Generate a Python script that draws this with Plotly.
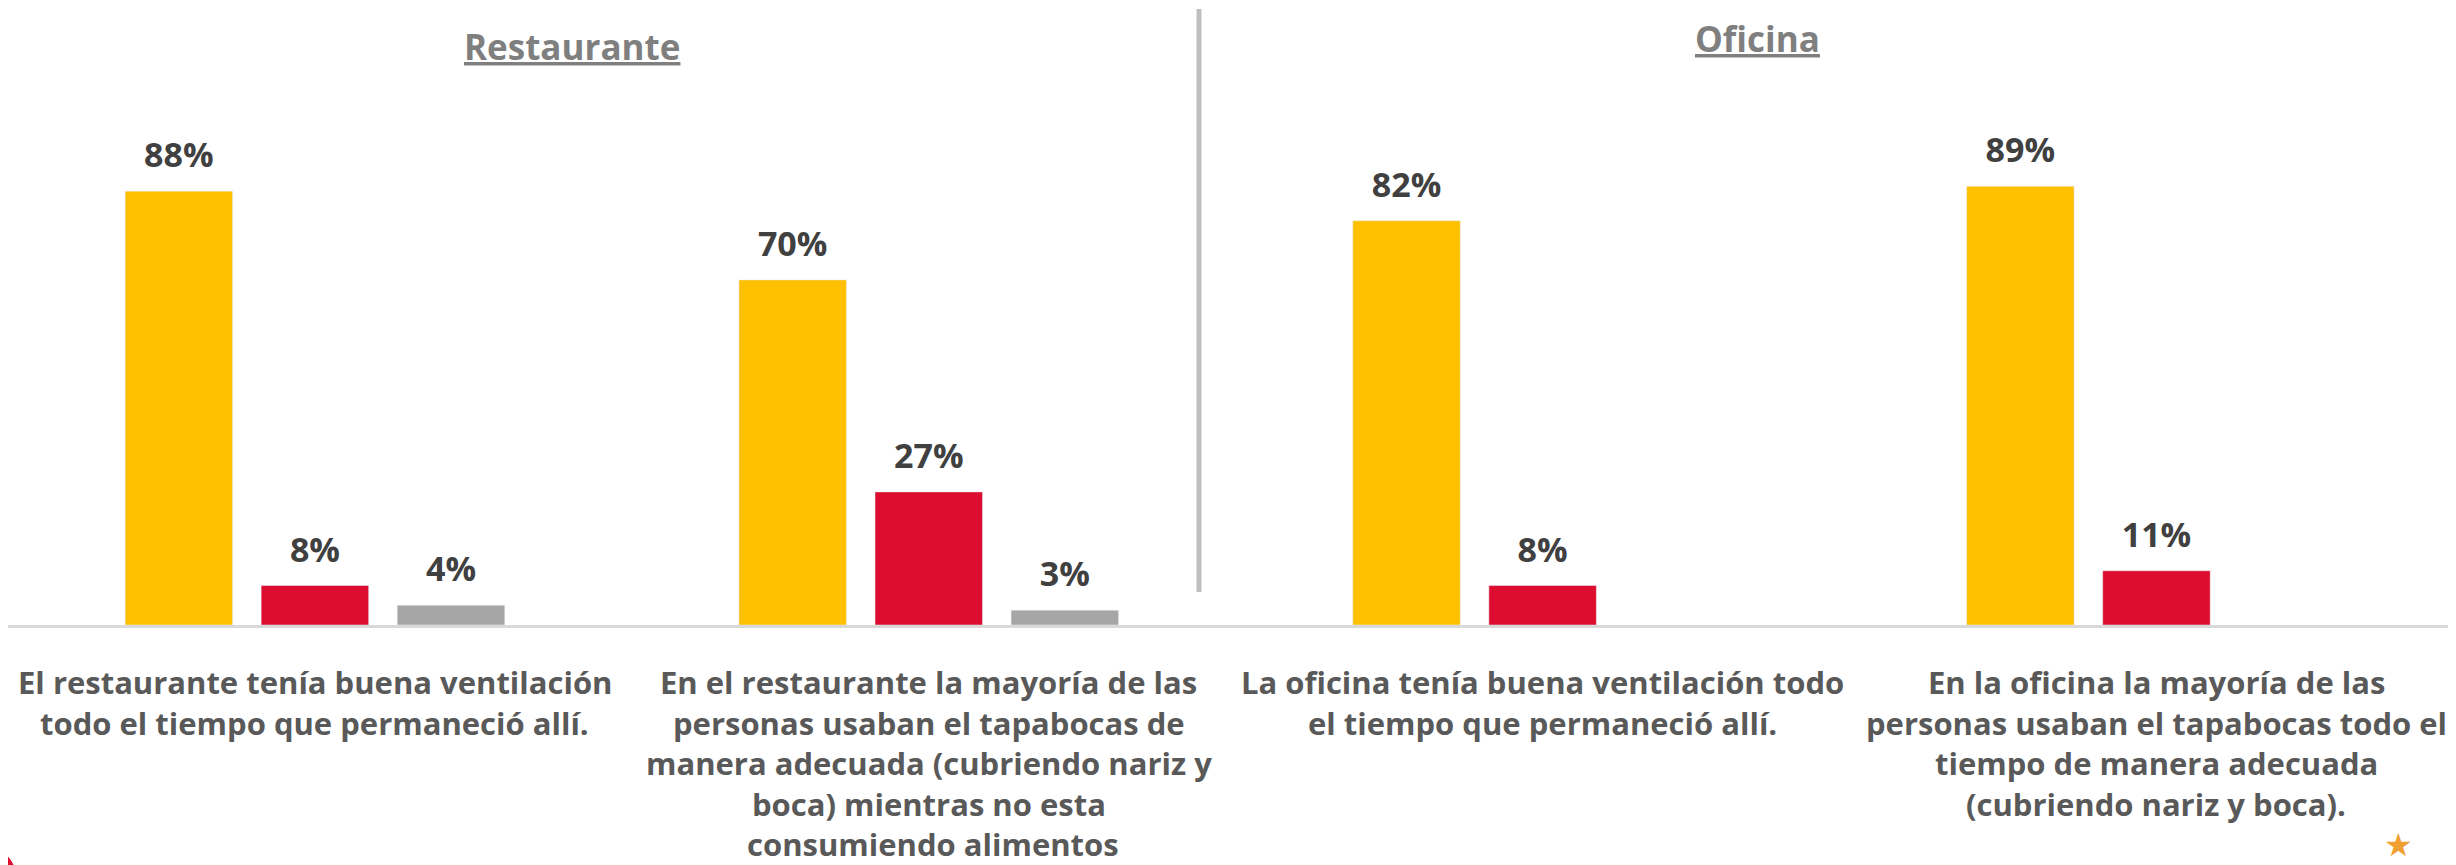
import plotly.graph_objects as go

# Datos
categorias = [
    "Restaurante ventilación",
    "Restaurante tapabocas",
    "Oficina ventilación",
    "Oficina tapabocas",
]
etiquetas = [
    ["El restaurante tenía buena ventilación", "todo el tiempo que permaneció allí."],
    ["En el restaurante la mayoría de las", "personas usaban el tapabocas de",
     "manera adecuada (cubriendo nariz y", "boca) mientras no esta", " consumiendo alimentos"],
    ["La oficina tenía buena ventilación todo", "el tiempo que permaneció allí."],
    ["En la oficina la mayoría de las", "personas usaban el tapabocas todo el",
     "tiempo de manera adecuada", "(cubriendo nariz y boca)."],
]
serie_si = [88, 70, 82, 89]
serie_no = [8, 27, 8, 11]
serie_ns = [4, 3, None, None]
titulos = ["Restaurante", "Oficina"]

FONT = "Open Sans, Lato, Arial, sans-serif"
COLORES = ["#FFC000", "#DC0D2E", "#A6A6A6"]

# la página añade 8 px de margen, así que la figura es 8 px más pequeña
OFF = 8
W, H = 2456 - OFF, 865 - OFF
ML, MT, MB = 0, 1, 240
PW = W - ML
PH = H - MT - MB
BASE = H - MB + OFF  # línea base en píxeles de la imagen


def px(x):
    return (x - OFF - ML) / PW


def py(y):
    return (BASE - y) / PH


fig = go.Figure()
series = list(zip(["Sí", "No", "No sabe"], [serie_si, serie_no, serie_ns], COLORES))
for nombre, valores, color in series:
    fig.add_trace(go.Bar(
        x=categorias, y=valores, name=nombre, marker_color=color,
        hoverinfo="skip",
    ))
# etiquetas de valor encima de cada barra
for nombre, valores, color in series:
    fig.add_trace(go.Scatter(
        x=categorias, y=valores, name=nombre, mode="markers+text",
        marker={"size": 23, "color": "rgba(0,0,0,0)"},
        text=[f"{v}%" if v is not None else "" for v in valores],
        textposition="top center", cliponaxis=False, hoverinfo="skip",
        textfont={"family": FONT, "size": 34, "color": "#404040", "weight": "bold"},
    ))

anotaciones = []
for cat, lineas in zip(categorias, etiquetas):
    for i, linea in enumerate(lineas):
        anotaciones.append(dict(
            x=cat, y=0, xref="x", yref="y", text=f"<b>{linea}</b>", showarrow=False,
            xanchor="center", yanchor="middle", yshift=-(57 + 40.5 * i),
            font={"family": FONT, "size": 31, "color": "#595959"},
        ))

for titulo, cx, cy in zip(titulos, [572, 1757], [47, 39]):
    anotaciones.append(dict(
        x=px(cx), y=py(cy), xref="paper", yref="paper", showarrow=False,
        text=f"<b><u>{titulo}</u></b>", xanchor="center", yanchor="middle",
        font={"family": FONT, "size": 35, "color": "#7F7F7F"},
    ))

# estrella decorativa abajo a la derecha
anotaciones.append(dict(
    x=px(2398), y=py(820), xref="paper", yref="paper", showarrow=False,
    text="★", xanchor="center", yanchor="top", font={"size": 32, "color": "#F0A030"},
))

fig.update_layout(
    width=W, height=H,
    margin={"l": ML, "r": 0, "t": MT, "b": MB},
    paper_bgcolor="white", plot_bgcolor="white",
    barmode="group", bargap=0.335, bargroupgap=0.21,
    scattermode="group", scattergap=0.335,
    showlegend=False,
    font={"family": FONT},
    xaxis={"range": [-0.5, 3.488], "showticklabels": False, "ticks": "",
           "showline": True, "linecolor": "#D9D9D9", "linewidth": 3,
           "showgrid": False, "zeroline": False},
    yaxis={"range": [0, PH / 4.93], "visible": False},
    annotations=anotaciones,
    shapes=[
        # separador vertical
        dict(type="line", xref="paper", yref="paper",
             x0=px(1199), x1=px(1199), y0=py(592), y1=py(9),
             line={"color": "#BFBFBF", "width": 5}),
        # decoración roja abajo a la izquierda
        dict(type="circle", xref="paper", yref="paper",
             x0=px(-40), x1=px(16), y0=py(905), y1=py(848),
             fillcolor="#DC0D2E", line={"width": 0}),
    ],
)

fig.write_html("out.html")
